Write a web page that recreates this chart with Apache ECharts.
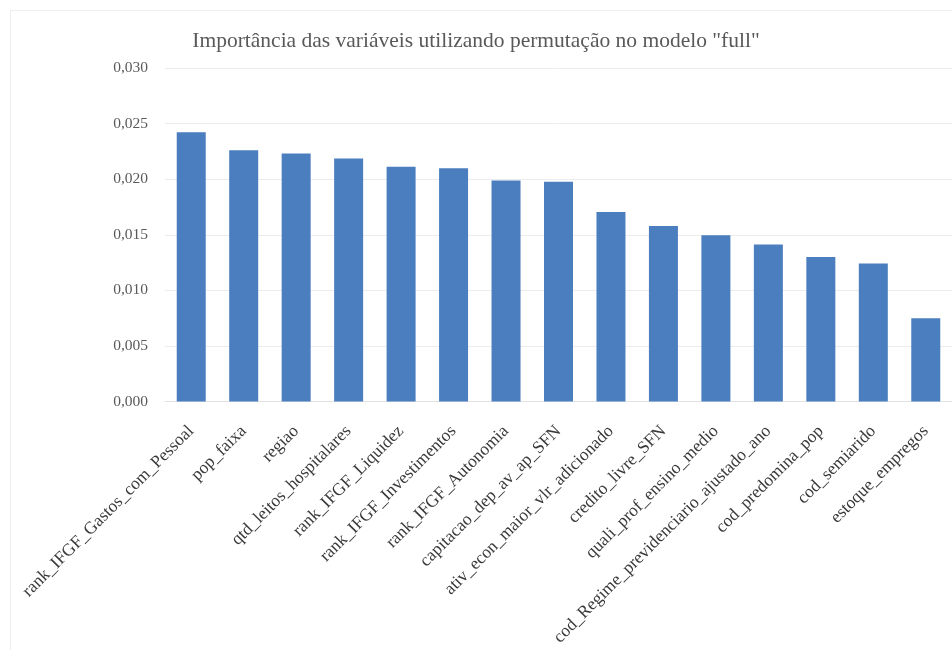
<!DOCTYPE html>
<html>
<head>
<meta charset="utf-8">
<style>
  html, body { margin: 0; padding: 0; background: #ffffff; }
  #frame { position: absolute; left: 10px; top: 10px; width: 960px; height: 660px;
           border: 1px solid #efefef; box-sizing: border-box; }
  #chart { position: absolute; left: 0; top: 0; width: 952px; height: 650px; }
</style>
<script src="https://cdn.jsdelivr.net/npm/echarts@6/dist/echarts.min.js"></script>
</head>
<body>
<div id="frame"></div>
<div id="chart"></div>
<script>
// Variable names, ordered by permutation importance
const variables = [
  'rank_IFGF_Gastos_com_Pessoal',
  'pop_faixa',
  'regiao',
  'qtd_leitos_hospitalares',
  'rank_IFGF_Liquidez',
  'rank_IFGF_Investimentos',
  'rank_IFGF_Autonomia',
  'capitacao_dep_av_ap_SFN',
  'ativ_econ_maior_vlr_adicionado',
  'credito_livre_SFN',
  'quali_prof_ensino_medio',
  'cod_Regime_previdenciario_ajustado_ano',
  'cod_predomina_pop',
  'cod_semiarido',
  'estoque_empregos'
];

// Mean importance (drop in score after permutation)
const importance = [
  0.02423, 0.02261, 0.02232, 0.02186, 0.02111,
  0.02099, 0.01988, 0.01977, 0.01705, 0.01579,
  0.01495, 0.01412, 0.01300, 0.01241, 0.00750
];

// Value-axis ticks
const yTicks = [0, 0.005, 0.010, 0.015, 0.020, 0.025, 0.030];

const serif = '"Liberation Serif", "DejaVu Serif", serif';

const chart = echarts.init(document.getElementById('chart'), null, { renderer: 'canvas' });

chart.setOption({
  backgroundColor: 'transparent',
  animation: false,
  title: {
    text: 'Importância das variáveis utilizando permutação no modelo "full"',
    left: 'center',
    top: 25,
    textStyle: {
      fontFamily: serif,
      fontWeight: 'normal',
      fontSize: 21.5,
      color: '#595959'
    }
  },
  grid: {
    left: 165,
    top: 68,
    width: 789,
    height: 333.5,
    containLabel: false
  },
  xAxis: {
    type: 'category',
    data: variables,
    axisTick: { show: false },
    axisLine: { show: true, lineStyle: { color: '#e3e3e3', width: 1 } },
    axisLabel: {
      interval: 0,
      rotate: 45,
      margin: 27,
      fontFamily: serif,
      fontSize: 17.5,
      color: '#3a3a3a'
    }
  },
  yAxis: {
    type: 'value',
    min: yTicks[0],
    max: yTicks[yTicks.length - 1],
    interval: yTicks[1] - yTicks[0],
    axisLine: { show: false },
    axisTick: { show: false },
    splitLine: { lineStyle: { color: '#ececec', width: 1 } },
    axisLabel: {
      margin: 17,
      fontFamily: serif,
      fontSize: 15.5,
      color: '#595959',
      formatter: v => v.toFixed(3).replace('.', ',')
    }
  },
  series: [{
    type: 'bar',
    data: importance,
    barWidth: 29,
    itemStyle: { color: '#4a7ebf' }
  }]
});
</script>
</body>
</html>
